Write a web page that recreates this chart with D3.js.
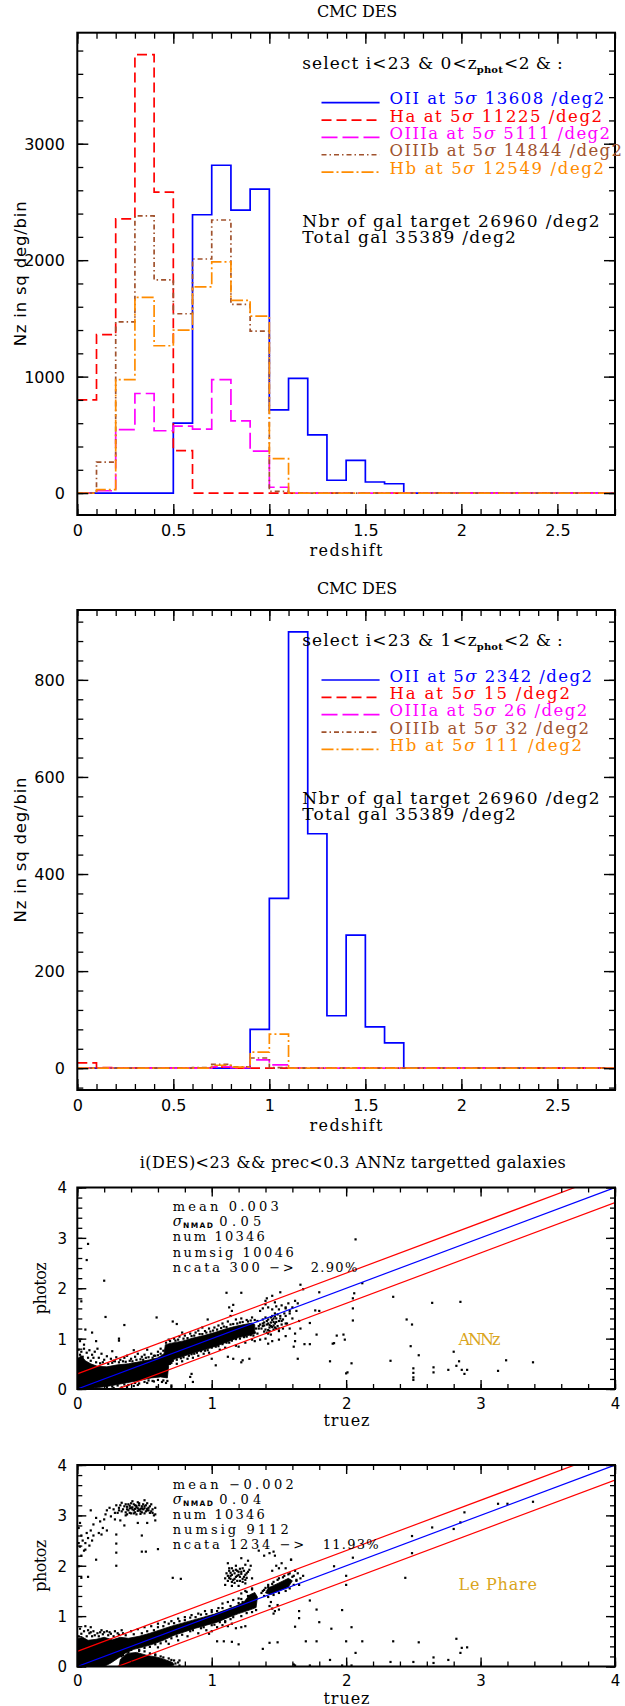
<!DOCTYPE html>
<html><head><meta charset="utf-8">
<script src="https://cdn.jsdelivr.net/npm/d3@7"></script>
<style>html,body{margin:0;padding:0;background:#fff}svg{display:block}</style>
</head><body>
<svg id="c" width="625" height="1706"></svg>
<script>
// ================= DATA =================
const binStart = [0.0,0.1,0.2,0.3,0.4,0.5,0.6,0.7,0.8,0.9,1.0,1.1,1.2,1.3,1.4,1.5,1.6,1.7,1.8,1.9,2.0,2.1,2.2,2.3,2.4,2.5,2.6,2.7];
const lineNames = ["OII","Ha","OIIIa","OIIIb","Hb"];
// panel 1 : 0<zphot<2   (Nz in sq deg / bin)
const p1OII   = [0,0,0,0,0,600,2390,2815,2430,2610,715,985,500,110,280,95,80,0,0,0,0,0,0,0,0,0,0,0];
const p1Ha    = [800,1360,2355,3765,2585,365,0,0,0,0,0,0,0,0,0,0,0,0,0,0,0,0,0,0,0,0,0,0];
const p1OIIIa = [0,20,545,855,535,575,550,975,620,360,50,0,0,0,0,0,0,0,0,0,0,0,0,0,0,0,0,0];
const p1OIIIb = [0,265,1470,2380,1830,1540,2010,2345,1620,1390,15,0,0,0,0,0,0,0,0,0,0,0,0,0,0,0,0,0];
const p1Hb    = [0,30,975,1680,1265,1400,1770,1985,1655,1520,295,0,0,0,0,0,0,0,0,0,0,0,0,0,0,0,0,0];
// panel 2 : 1<zphot<2
const p2OII   = [0,0,0,0,0,0,0,0,0,80,350,899,483,108,274,85,52,0,0,0,0,0,0,0,0,0,0,0];
const p2Ha    = [11,1,0,0,0,0,0,2,0,0,0,0,0,0,0,0,0,0,0,0,0,0,0,0,0,0,0,0];
const p2OIIIa = [0,0,0,0,0,0,0,3,1,17,7,0,0,0,0,0,0,0,0,0,0,0,0,0,0,0,0,0];
const p2OIIIb = [0,0,0,0,0,0,1,8,3,21,1,0,0,0,0,0,0,0,0,0,0,0,0,0,0,0,0,0];
const p2Hb    = [0,0,0,0,0,0,0,6,2,33,70,0,0,0,0,0,0,0,0,0,0,0,0,0,0,0,0,0];
const p1Density = [13608,11225,5111,14844,12549];
const p2Density = [2342,15,26,32,111];
const targetDensity = 26960, totalDensity = 35389;
const histXTicks = [0,0.5,1,1.5,2,2.5];
const p1YTicks = [0,1000,2000,3000];
const p2YTicks = [0,200,400,600,800];
const scatterTicks = [0,1,2,3,4];
const lineOffsets = [0.3,0,-0.3];
const annzStats = ["0.003","0.05","10346","10046","300","2.90%"];
const lpStats = ["\u22120.002","0.04","10346","9112","1234","11.93%"];

// ANNz photoz vs truez : dense core outline + individual points
const annzCores = [
 [[0,0],[0,0.6],[0.03,0.66],[0.06,0.56],[0.1,0.5],[0.15,0.45],[0.22,0.44],[0.3,0.48],[0.38,0.5],[0.46,0.54],[0.54,0.58],[0.6,0.62],[0.645,0.7],[0.655,0.88],[0.7,0.91],[0.78,0.95],[0.86,1.01],[0.94,1.06],[1.02,1.12],[1.1,1.19],[1.17,1.24],[1.24,1.28],[1.3,1.31],[1.32,1.28],
  [1.32,1.1],[1.27,1.06],[1.2,1.02],[1.12,0.94],[1.04,0.86],[0.96,0.79],[0.88,0.73],[0.8,0.66],[0.72,0.59],[0.68,0.47],[0.67,0.22],[0.62,0.24],[0.55,0.22],[0.48,0.18],[0.4,0.14],[0.32,0.1],[0.24,0.06],[0.16,0.03],[0.08,0.01]]
];
const annzPoints = [
 [0.08,2.88],[0.07,2.56],[0.2,2.15],[2.07,2.97],[0.03,1.74],[0.21,1.43],[0.06,1.18],[0.11,1.12],[0.14,0.95],[0.31,1.0],[0.31,0.96],[0.35,1.27],[0.59,1.42],[0.71,1.34],[0.74,1.29],[0.97,1.38],[1.11,1.91],[1.22,1.91],[1.41,1.8],[1.51,1.92],[1.66,2.07],[1.8,1.92],[2.12,2.1],[2.06,1.9],[2.05,1.8],[2.05,1.6],[2.05,1.36],[2.35,1.83],[2.64,1.71],[2.85,1.73],[2.45,1.38],[2.49,1.28],[2.48,0.85],[2.54,0.67],[2.8,0.74],[2.84,0.55],[2.82,0.46],[2.86,0.38],[2.88,0.3],[2.9,0.38],[2.76,0.38],[2.65,0.43],[2.65,0.33],[2.5,0.41],[2.5,0.32],[2.5,0.23],[2.5,0.18],[2.33,0.56],[2.04,0.51],[2.01,0.33],[1.98,1.08],[1.93,1.06],[1.91,0.91],[1.88,0.55],[1.78,1.08],[1.73,1.31],[1.69,0.89],[1.64,0.6],[1.61,0.84],[1.77,1.56],[3.13,0.36],[3.19,0.57],[3.39,0.53],[1.68,1.98],[1.8,1.55],[1.9,0.9],[1.99,0.98],[1.73,0.89],[2.0,0.31],
 [0.01,0.78],[0.03,0.74],[0.05,0.8],[0.07,0.72],[0.09,0.77],[0.11,0.68],[0.13,0.74],[0.12,0.62],[0.16,0.62],[0.18,0.7],[0.2,0.58],[0.22,0.65],[0.25,0.6],[0.27,0.56],[0.29,0.63],[0.32,0.58],[0.35,0.62],[0.37,0.66],[0.4,0.6],[0.43,0.64],[0.45,0.7],[0.48,0.64],[0.5,0.68],[0.52,0.78],[0.55,0.7],[0.57,0.66],[0.6,0.74],[0.62,0.8],[0.02,0.95],[0.05,0.88],[0.15,0.8],[0.26,0.75],[0.42,0.77],
 [0.02,0.68],[0.04,0.64],[0.08,0.62],[0.1,0.56],[0.14,0.53],[0.17,0.51],[0.19,0.53],[0.23,0.5],[0.26,0.52],[0.28,0.55],[0.31,0.53],[0.34,0.55],[0.36,0.54],[0.39,0.56],[0.41,0.55],[0.44,0.58],[0.47,0.59],[0.49,0.58],[0.51,0.62],[0.53,0.63],[0.56,0.62],[0.58,0.66],[0.6,0.67],[0.62,0.7],[0.64,0.76],
 [0.19,0.0],[0.27,0.02],[0.37,0.04],[0.45,0.08],[0.52,0.12],[0.59,0.04],[0.57,0.15],[0.63,0.14],[0.7,0.04],[0.7,0.07],[0.66,0.12],[0.42,0.06],[0.33,0.03],
 [0.1,0.0],[0.14,0.01],[0.22,0.04],[0.26,0.05],[0.3,0.07],[0.35,0.09],[0.38,0.08],[0.43,0.12],[0.46,0.11],[0.5,0.14],[0.53,0.17],[0.56,0.16],[0.6,0.18],[0.64,0.17],[0.67,0.16],
 [0.68,0.98],[0.72,1.0],[0.76,1.04],[0.8,1.06],[0.84,1.1],[0.88,1.12],[0.9,1.16],[0.95,1.15],[0.98,1.2],[1.02,1.22],[1.05,1.26],[1.08,1.3],[1.12,1.34],[1.14,1.45],[1.15,1.55],[1.13,1.62],[1.16,1.67],[1.18,1.38],[1.22,1.4],[1.26,1.37],[1.3,1.42],[0.78,1.12],[0.93,1.22],
 [0.66,0.92],[0.69,0.95],[0.73,0.96],[0.75,0.98],[0.79,1.0],[0.82,1.01],[0.85,1.05],[0.87,1.06],[0.91,1.09],[0.93,1.09],[0.96,1.12],[0.99,1.14],[1.01,1.16],[1.04,1.18],[1.07,1.21],[1.09,1.24],[1.11,1.23],[1.14,1.28],[1.16,1.29],[1.19,1.3],[1.21,1.32],[1.23,1.33],[1.27,1.34],[1.29,1.36],[1.32,1.37],
 [0.7,0.52],[0.74,0.5],[0.78,0.55],[0.82,0.6],[0.86,0.62],[0.9,0.66],[0.94,0.7],[0.98,0.72],[1.0,0.6],[1.03,0.47],[1.06,0.78],[1.1,0.82],[1.12,0.64],[1.16,0.6],[1.18,0.86],[1.22,0.53],[1.23,0.57],[1.25,0.92],[1.28,0.6],[1.3,0.98],[1.32,0.95],[0.85,0.3],[0.86,0.14],[0.84,0.24],[0.58,0.44],[1.2,0.84],
 [0.69,0.5],[0.71,0.56],[0.74,0.58],[0.77,0.61],[0.79,0.63],[0.83,0.66],[0.85,0.69],[0.87,0.7],[0.89,0.72],[0.92,0.75],[0.95,0.76],[0.97,0.77],[1.0,0.82],[1.03,0.84],[1.05,0.85],[1.08,0.89],[1.11,0.92],[1.13,0.92],[1.15,0.96],[1.18,0.99],[1.21,1.0],[1.24,1.03],[1.26,1.04],[1.29,1.07],[1.31,1.06],
 [1.33,1.2],[1.34,1.1],[1.35,1.25],[1.32,1.12],
 [1.37,1.2],[1.38,1.25],[1.39,1.32],[1.4,1.18],[1.41,1.28],[1.42,1.38],[1.43,1.22],[1.44,1.32],[1.45,1.45],[1.46,1.18],[1.47,1.3],[1.48,1.4],[1.49,1.25],[1.5,1.35],[1.51,1.45],[1.52,1.28],[1.53,1.38],[1.4,1.42],[1.43,1.15],[1.47,1.22],[1.5,1.15],[1.38,1.38],[1.42,1.3],[1.45,1.37],[1.48,1.33],[1.41,1.12],[1.44,1.42],[1.46,1.26],[1.49,1.48],[1.53,1.2],[1.39,1.14],[1.36,1.28],[1.55,1.3],[1.54,1.5],[1.44,1.08],[1.41,1.35],[1.46,1.33],[1.43,1.27],[1.48,1.2],[1.51,1.4],[1.39,1.26],[1.45,1.23],[1.47,1.44],[1.42,1.17],
 [1.36,1.55],[1.38,1.6],[1.4,1.68],[1.42,1.62],[1.45,1.58],[1.47,1.72],[1.48,1.64],[1.5,1.58],[1.52,1.66],[1.55,1.6],[1.57,1.7],[1.6,1.62],[1.62,1.75],[1.63,1.55],[1.58,1.5],[1.6,1.4],[1.56,1.3],[1.58,1.2],[1.62,1.1],[1.55,1.05],[1.5,0.98],[1.45,0.95],[1.42,0.9],[1.4,1.0],[1.36,0.98],[1.35,1.2],[1.34,1.35],[1.38,1.3],[1.44,1.25],[1.46,1.4],[1.52,1.35],[1.5,1.2],[1.42,1.1],[1.47,1.5],[1.55,1.45],[1.65,1.35],[1.66,1.2],[1.62,0.95],[1.45,1.85],[1.4,1.75],[1.58,1.55],[1.64,1.7],[1.55,1.62]
];

// Le Phare photoz vs truez
const lpCores = [
 [[0,0],[0,0.55],[0.04,0.58],[0.08,0.52],[0.14,0.54],[0.2,0.58],[0.26,0.53],[0.32,0.58],[0.38,0.56],[0.46,0.6],[0.54,0.66],[0.62,0.73],[0.7,0.8],[0.78,0.86],[0.86,0.92],[0.94,0.98],[1.02,1.04],[1.1,1.12],[1.18,1.2],[1.24,1.28],[1.28,1.42],[1.32,1.47],[1.34,1.38],[1.33,1.17],[1.28,1.12],[1.2,1.05],[1.12,0.97],[1.04,0.88],[0.96,0.82],[0.88,0.76],[0.8,0.69],[0.72,0.62],[0.64,0.52],[0.56,0.44],[0.48,0.38],[0.42,0.34],[0.36,0.27],[0.3,0.16],[0.25,0.07],[0.2,0.0]],
 [[0.31,0],[0.32,0.14],[0.37,0.26],[0.44,0.28],[0.52,0.22],[0.6,0.18],[0.66,0.13],[0.71,0.08],[0.72,0.03],[0.69,0]],
 [[1.4,1.46],[1.42,1.56],[1.5,1.66],[1.57,1.75],[1.6,1.7],[1.57,1.58],[1.5,1.5],[1.44,1.43]]
];
const lpPoints = [
 [0.27,3.12],[0.29,3.2],[0.3,3.05],[0.31,3.15],[0.33,3.25],[0.33,3.08],[0.35,3.18],[0.36,3.0],[0.37,3.12],[0.38,3.22],[0.39,3.05],[0.4,3.15],[0.41,3.28],[0.42,3.1],[0.43,3.2],[0.44,3.02],[0.45,3.14],[0.46,3.24],[0.47,3.08],[0.48,3.18],[0.49,3.12],[0.5,3.3],[0.5,3.04],[0.51,3.2],[0.52,3.1],[0.53,3.15],[0.54,3.05],[0.55,3.22],[0.56,3.12],[0.57,3.0],[0.58,3.15],[0.24,3.15],[0.22,3.1],[0.21,3.02],[0.25,2.98],[0.28,2.92],[0.32,2.9],[0.2,2.92],[0.17,2.88],[0.14,2.95],[0.12,2.82],[0.19,2.75],[0.22,2.7],[0.16,2.65],[0.18,2.62],[0.12,2.6],[0.1,2.7],[0.08,2.55],[0.06,2.45],[0.04,2.5],[0.02,2.38],[0.05,2.3],[0.03,2.6],[0.01,2.75],[0.02,2.85],[0.09,2.4],[0.07,2.65],[0.11,2.5],[0.03,2.2],[0.06,2.32],[0.01,2.45],[0.1,3.1],[0.45,2.85],[0.52,2.85],[0.58,2.9],[0.35,2.8],[0.29,2.62],[0.48,2.6],[0.48,2.28],[0.51,2.28],[0.6,2.33],[0.29,2.26],[0.29,2.44],[0.29,2.0],[0.14,2.12],[0.08,1.78],[0.03,1.76],[0.01,1.99],[0.71,1.76],[0.77,1.74],
 [0.36,3.06],[0.37,3.17],[0.38,3.1],[0.39,3.19],[0.4,3.04],[0.41,3.12],[0.42,3.22],[0.43,3.06],[0.44,3.16],[0.45,3.09],[0.46,3.2],[0.47,3.13],[0.48,3.06],[0.49,3.22],[0.5,3.14],[0.51,3.08],[0.52,3.24],[0.53,3.1],[0.54,3.18],[0.55,3.08],[0.45,3.26],[0.4,3.24],[0.36,3.22],[0.34,3.12],[0.32,3.2],[0.42,3.04],[0.47,3.03],[0.5,3.18],[0.43,3.13],[0.46,3.11],[0.41,3.16],[0.39,3.14],[0.48,3.14],[0.52,3.13],[0.44,3.19],[0.37,3.02],[0.56,3.05],[0.58,3.02],[0.31,3.1],[0.28,3.05],
 [1.1,1.75],[1.11,1.85],[1.12,1.7],[1.13,1.9],[1.14,1.8],[1.15,1.95],[1.16,1.72],[1.17,1.85],[1.18,1.78],[1.19,1.9],[1.2,1.82],[1.21,1.7],[1.22,1.88],[1.23,1.95],[1.24,1.78],[1.25,2.02],[1.26,1.85],[1.27,2.1],[1.28,1.92],[1.12,2.05],[1.1,1.62],[1.15,1.6],[1.2,1.6],[1.25,1.65],[1.3,1.75],[1.22,2.15],[1.29,2.0],
 [1.13,1.76],[1.14,1.86],[1.15,1.82],[1.16,1.9],[1.17,1.74],[1.18,1.92],[1.19,1.8],[1.2,1.88],[1.21,1.78],[1.22,1.84],[1.23,1.74],[1.24,1.9],[1.25,1.82],[1.26,1.76],[1.27,1.88],[1.15,1.68],[1.19,1.7],[1.23,1.68],[1.13,1.95],[1.18,2.0],[1.14,1.74],[1.21,1.94],[1.12,1.8],[1.17,1.66],[1.25,1.72],
 [1.38,1.5],[1.4,1.56],[1.42,1.62],[1.44,1.55],[1.46,1.68],[1.48,1.6],[1.5,1.75],[1.52,1.65],[1.54,1.8],[1.56,1.7],[1.58,1.85],[1.6,1.78],[1.62,1.9],[1.63,1.7],[1.64,1.85],[1.65,1.62],[1.45,1.9],[1.48,2.0],[1.5,1.95],[1.47,2.2],[1.52,2.05],[1.55,1.95],[1.35,2.3],[1.39,2.2],[1.43,2.25],[1.46,2.28],[1.59,2.12],[1.66,1.75],[1.68,1.8],
 [1.37,1.46],[1.39,1.52],[1.42,1.58],[1.45,1.64],[1.49,1.72],[1.53,1.77],[1.57,1.83],[1.61,1.8],[1.63,1.72],[1.61,1.62],[1.58,1.55],[1.55,1.5],[1.5,1.46],[1.46,1.42],[1.42,1.38],[1.39,1.4],
 [1.43,1.2],[1.45,1.15],[1.47,1.1],[1.49,1.22],[1.46,1.05],[1.5,1.13],[1.44,1.28],[1.2,1.35],[1.22,1.45],[1.25,1.5],[1.27,1.4],[1.3,1.55],[1.28,1.25],[1.26,1.3],[1.23,1.28],
 [0.02,0.75],[0.05,0.7],[0.08,0.72],[0.1,0.68],[0.12,0.7],[0.15,0.66],[0.18,0.72],[0.2,0.68],[0.22,0.7],[0.25,0.65],[0.28,0.7],[0.3,0.66],[0.33,0.72],[0.1,0.78],[0.06,0.8],
 [0.01,0.6],[0.03,0.65],[0.07,0.6],[0.11,0.6],[0.13,0.62],[0.16,0.6],[0.19,0.64],[0.23,0.62],[0.27,0.6],[0.31,0.63],[0.34,0.66],[0.09,0.66],[0.17,0.68],[0.24,0.68],
 [0.4,0.7],[0.45,0.74],[0.5,0.78],[0.55,0.8],[0.6,0.85],[0.65,0.88],[0.7,0.9],[0.75,0.95],[0.8,0.98],[0.85,1.02],[0.9,1.05],[0.95,1.1],[1.0,1.12],[1.05,1.16],[1.08,1.25],[1.12,1.28],[1.16,1.32],
 [0.36,0.62],[0.42,0.64],[0.48,0.66],[0.52,0.7],[0.57,0.72],[0.6,0.78],[0.64,0.8],[0.68,0.85],[0.72,0.86],[0.76,0.9],[0.8,0.92],[0.84,0.97],[0.88,0.98],[0.92,1.03],[0.96,1.04],[1.0,1.08],[1.04,1.1],[1.08,1.16],[1.14,1.2],[1.2,1.26],[1.22,1.34],[1.26,1.48],[1.3,1.53],
 [0.4,0.22],[0.5,0.3],[0.6,0.38],[0.68,0.45],[0.75,0.52],[0.82,0.6],[0.9,0.66],[0.96,0.72],[1.0,0.7],[1.04,0.78],[1.08,0.82],[1.1,0.88],[1.06,0.93],[1.12,0.8],[1.15,0.85],[0.98,0.65],[1.18,0.76],[1.25,0.8],[1.22,0.78],
 [0.34,0.23],[0.38,0.28],[0.46,0.33],[0.5,0.37],[0.54,0.39],[0.58,0.44],[0.62,0.46],[0.66,0.5],[0.7,0.56],[0.74,0.6],[0.78,0.63],[0.84,0.7],[0.86,0.72],[0.92,0.76],[0.94,0.78],[1.0,0.82],[1.02,0.83],[1.06,0.88],[1.1,0.9],[1.14,0.94],[1.16,0.98],[1.22,1.0],[1.26,1.06],[1.3,1.08],[1.33,1.12],
 [0.62,0.2],[0.68,0.16],[0.72,0.12],[0.75,0.08],[0.76,0.12],[0.58,0.24],[0.55,0.1],[0.62,0.06],[0.66,0.02],[0.45,0.02],[0.5,0.05],[0.35,0.34],[0.28,0.3],
 [0.33,0.2],[0.35,0.3],[0.4,0.33],[0.46,0.31],[0.54,0.26],[0.58,0.22],[0.64,0.18],[0.7,0.13],[0.73,0.06],[0.76,0.02],[0.68,0.08],[0.63,0.1],
 [1.04,0.5],[1.09,0.5],[1.15,0.49],[1.2,0.44],[1.38,0.35],[1.43,0.47],[1.49,0.48],
 [1.62,0.79],[1.65,0.96],[1.65,1.1],[1.61,0.04],[1.73,1.31],[1.78,1.13],[1.8,0.88],[1.89,0.75],[1.97,1.12],[2.04,0.78],[2.12,0.5],[2.0,0.5],[2.07,0.27],[1.88,0.13],[1.97,0.02],[2.04,0.02],[1.7,0.5],[1.78,0.5],[1.62,0.02],[1.73,0.02],[2.35,0.5],[2.54,0.48],[2.33,0.09],[2.5,0.09],[2.65,0.18],[2.65,0.07],[2.76,0.13],[2.82,0.55],[2.86,0.37],[2.85,0.27],[2.9,0.38],[2.0,1.8],[2.0,1.62],[1.91,1.99],[2.05,2.16],[2.44,1.76],[2.49,2.25],[2.49,2.59],[2.64,2.76],[2.8,2.73],[2.88,3.06],[2.85,2.86],[3.13,3.23],[3.2,3.23],[3.39,3.27],[1.59,2.12]
];

// ================= DRAWING =================
const svg = d3.select("#c");
const XL = 77.3, XR = 615;
const SERIF = "'DejaVu Serif', serif", SANS = "'DejaVu Sans', sans-serif";
const colors = ["#0000ff","#ff0000","#ff00ff","#a0522d","#ff8c00"];
const dashes = [null,"10,5","16,5","5,3,1.5,3","12,3,2,3"];

function fit(t, width) {
  const n = t.node().getNumberOfChars();
  const w = t.node().getComputedTextLength();
  if (n > 1) t.attr("letter-spacing", ((width - w) / (n - 1)).toFixed(3));
}
function addText(parent, x, y, str, o = {}) {
  const t = parent.append("text").attr("x", x).attr("y", y)
    .attr("font-family", o.family || SERIF).attr("font-size", o.size || 16)
    .attr("fill", o.fill || "#000").attr("text-anchor", "start")
    .style("white-space", "pre");
  if (o.weight) t.attr("font-weight", o.weight);
  if (o.style) t.attr("font-style", o.style);
  if (o.transform) t.attr("transform", o.transform);
  t.text(str);
  if (o.width) fit(t, o.width);
  if (o.center !== undefined) {
    const w = o.width || t.node().getComputedTextLength();
    t.attr("x", o.center - w / 2);
  }
  return t;
}

function frame(g, x, y, top, bot, o) {
  const sides = [
    [d3.axisBottom, x, `translate(0,${bot})`, true],
    [d3.axisTop, x, `translate(0,${top})`, true],
    [d3.axisLeft, y, `translate(${XL},0)`, false],
    [d3.axisRight, y, `translate(${XR},0)`, false]
  ];
  sides.forEach(([ax, sc, tr, isX], i) => {
    const minor = isX ? o.xMinor : o.yMinor;
    const major = isX ? o.xMajor : o.yMajor;
    const mg = g.append("g").attr("transform", tr)
      .call(ax(sc).tickValues(minor).tickSizeInner(-o.minLen).tickSizeOuter(0).tickFormat(""));
    mg.select(".domain").remove();
    mg.selectAll(".tick line").attr("stroke", "#000").attr("stroke-width", 1.3);
    const labelled = (i === 0 || i === 2);
    const Mg = g.append("g").attr("transform", tr)
      .call(ax(sc).tickValues(major).tickSizeInner(-o.majLen).tickSizeOuter(0)
        .tickFormat(labelled ? (d => String(d)) : ""));
    Mg.select(".domain").remove();
    Mg.attr("font-family", SANS).attr("font-size", o.fs);
    Mg.selectAll(".tick line").attr("stroke", "#000").attr("stroke-width", 1.4);
    if (i === 0) Mg.selectAll(".tick text").attr("y", o.xBase).attr("dy", null).attr("fill", "#000");
    if (i === 2) Mg.selectAll(".tick text").attr("x", -o.yPad).attr("dy", "0.36em").attr("fill", "#000");
  });
  g.append("rect").attr("x", XL).attr("y", top).attr("width", XR - XL).attr("height", bot - top)
    .attr("fill", "none").attr("stroke", "#000").attr("stroke-width", 2);
}

function histPanel(top, bot, series, dens, ticks, sel0, idx) {
  const g = svg.append("g");
  const xMax = binStart[binStart.length - 1] + (binStart[1] - binStart[0]);
  const x = d3.scaleLinear().domain([0, xMax]).range([XL, XR]);
  const mx = d3.max(series.flat());
  const y = d3.scaleLinear().domain([-0.05 * mx, 1.05 * mx]).range([bot, top]);
  const cid = "clip" + idx;
  svg.append("clipPath").attr("id", cid).append("rect")
    .attr("x", XL).attr("y", top).attr("width", XR - XL).attr("height", bot - top);
  const line = d3.line().x(d => x(d[0])).y(d => y(d[1])).curve(d3.curveStepAfter);
  const pg = g.append("g").attr("clip-path", `url(#${cid})`);
  series.forEach((vals, k) => {
    const pts = binStart.map((b, i) => [b, vals[i]]);
    pts.push([xMax, vals[vals.length - 1]]);
    pg.append("path").attr("d", line(pts)).attr("fill", "none")
      .attr("stroke", colors[k]).attr("stroke-width", 1.7)
      .attr("stroke-dasharray", dashes[k]);
  });
  const step = ticks[1] - ticks[0];
  const minStep = step / 5;
  const yMinor = d3.range(Math.ceil(y.domain()[0] / minStep) * minStep, y.domain()[1], minStep);
  frame(g, x, y, top, bot, {
    xMajor: histXTicks, xMinor: d3.range(0, xMax + 1e-9, 0.1).map(v => +v.toFixed(2)),
    yMajor: ticks, yMinor: yMinor, majLen: 11, minLen: 6, fs: 16, xBase: 20.5, yPad: 12.4
  });
  // texts
  addText(g, 0, top - 16, "CMC DES", {width: 80.2, center: 357});
  addText(g, 302.2, top + 36.3, "select i<23 & " + sel0 + "<z", {size: 17, width: 174.6});
  addText(g, 476.8, top + 40.3, "phot", {size: 10, weight: "bold", width: 26});
  addText(g, 504, top + 36.3, "<2 & :", {size: 17, width: 58.8});
  const widths = idx === 1 ? [214.6, 212.4, 220.4, 232.4, 214.4] : [202.5, 180.4, 197.7, 199.4, 192.4];
  lineNames.forEach((nm, k) => {
    const by = top + 71.5 + 17.35 * k;
    g.append("line").attr("x1", 321.5).attr("x2", 379.6).attr("y1", by - 1.5).attr("y2", by - 1.5)
      .attr("stroke", colors[k]).attr("stroke-width", 1.7).attr("stroke-dasharray", dashes[k]);
    const t = g.append("text").attr("x", 389.6).attr("y", by).attr("font-family", SERIF)
      .attr("font-size", 16.5).attr("fill", colors[k]);
    t.append("tspan").text(nm + " at 5");
    t.append("tspan").attr("font-style", "italic").text("\u03c3");
    t.append("tspan").text(" " + dens[k] + " /deg2");
    fit(t, widths[k]);
  });
  addText(g, 302.2, top + 193.8, "Nbr of gal target " + targetDensity + " /deg2", {size: 17, width: 297.3});
  addText(g, 302.2, top + 210.4, "Total gal " + totalDensity + " /deg2", {size: 17, width: 213.7});
  addText(g, 0, bot + 40.5, "redshift", {width: 73, center: 346});
  const cy = (top + bot) / 2;
  addText(g, 0, 0, "Nz in sq deg/bin", {family: SANS, size: 16.5, width: 145, center: 0,
    transform: `translate(26,${cy}) rotate(-90)`});
}

function scatterPanel(top, bot, cores, pts, stats, tag, tagW, tagBase, idx) {
  const g = svg.append("g");
  const x = d3.scaleLinear().domain([0, 4]).range([XL, XR]);
  const y = d3.scaleLinear().domain([0, 4]).range([bot, top]);
  const cid = "sclip" + idx;
  svg.append("clipPath").attr("id", cid).append("rect")
    .attr("x", XL).attr("y", top).attr("width", XR - XL).attr("height", bot - top);
  const pg = g.append("g").attr("clip-path", `url(#${cid})`);
  const poly = d3.line().x(d => x(d[0])).y(d => y(d[1]));
  cores.forEach(c => pg.append("path").attr("d", poly(c) + "Z").attr("fill", "#000")
    .attr("stroke", "#000").attr("stroke-width", 0.8));
  pg.selectAll("rect.pt").data(pts).join("rect").attr("class", "pt")
    .attr("x", d => x(d[0]) - 1.1).attr("y", d => y(d[1]) - 1.1)
    .attr("width", 2.2).attr("height", 2.2).attr("fill", "#000");
  lineOffsets.forEach(o => {
    pg.append("path").attr("d", poly([[0, o], [4, 4 + o]])).attr("fill", "none")
      .attr("stroke", o === 0 ? "#0000ff" : "#ff0000").attr("stroke-width", 1.2);
  });
  frame(g, x, y, top, bot, {
    xMajor: scatterTicks, xMinor: d3.range(0, 4.0001, 0.2).map(v => +v.toFixed(2)),
    yMajor: scatterTicks, yMinor: d3.range(0, 4.0001, 0.2).map(v => +v.toFixed(2)),
    majLen: 9, minLen: 5, fs: 15, xBase: 19.5, yPad: 10.3
  });
  const sx = 172.7, b0 = top + 23.6, dl = 15.15, fs = 13;
  addText(g, sx, b0, "mean " + stats[0], {size: fs, width: idx === 3 ? 106 : 121});
  addText(g, sx, b0 + dl, "\u03c3", {size: fs + 1, style: "italic"});
  addText(g, 183, b0 + dl + 2, "NMAD", {size: 7.5, weight: "bold", family: SANS, width: 30});
  addText(g, 219.3, b0 + dl, stats[1], {size: fs, width: 42});
  addText(g, sx, b0 + 2 * dl, "num " + stats[2], {size: fs, width: 92});
  addText(g, sx, b0 + 3 * dl, "numsig " + stats[3], {size: fs, width: idx === 3 ? 121 : 116});
  addText(g, sx, b0 + 4 * dl, "ncata " + stats[4] + " \u2212>", {size: fs, width: idx === 3 ? 121 : 131.5});
  addText(g, idx === 3 ? 310.7 : 322.7, b0 + 4 * dl, stats[5], {size: fs, width: idx === 3 ? 46.6 : 56});
  addText(g, 458.5, top + tagBase, tag, {fill: "#daa520", width: tagW});
  addText(g, 0, bot + 37, "truez", {width: 46, center: 346.5});
  addText(g, 0, 0, "photoz", {width: 52, center: 0,
    transform: `translate(46,${(top + bot) / 2}) rotate(-90)`});
}

histPanel(32.7, 515, [p1OII, p1Ha, p1OIIIa, p1OIIIb, p1Hb], p1Density, p1YTicks, "0", 1);
histPanel(610, 1090, [p2OII, p2Ha, p2OIIIa, p2OIIIb, p2Hb], p2Density, p2YTicks, "1", 2);
addText(svg, 139.8, 1168.3, "i(DES)<23 && prec<0.3 ANNz targetted galaxies", {width: 426});
scatterPanel(1187.5, 1389, annzCores, annzPoints, annzStats, "ANNz", 42, 157.5, 3);
scatterPanel(1465, 1666.5, lpCores, lpPoints, lpStats, "Le Phare", 78.4, 125, 4);
</script>
</body></html>
